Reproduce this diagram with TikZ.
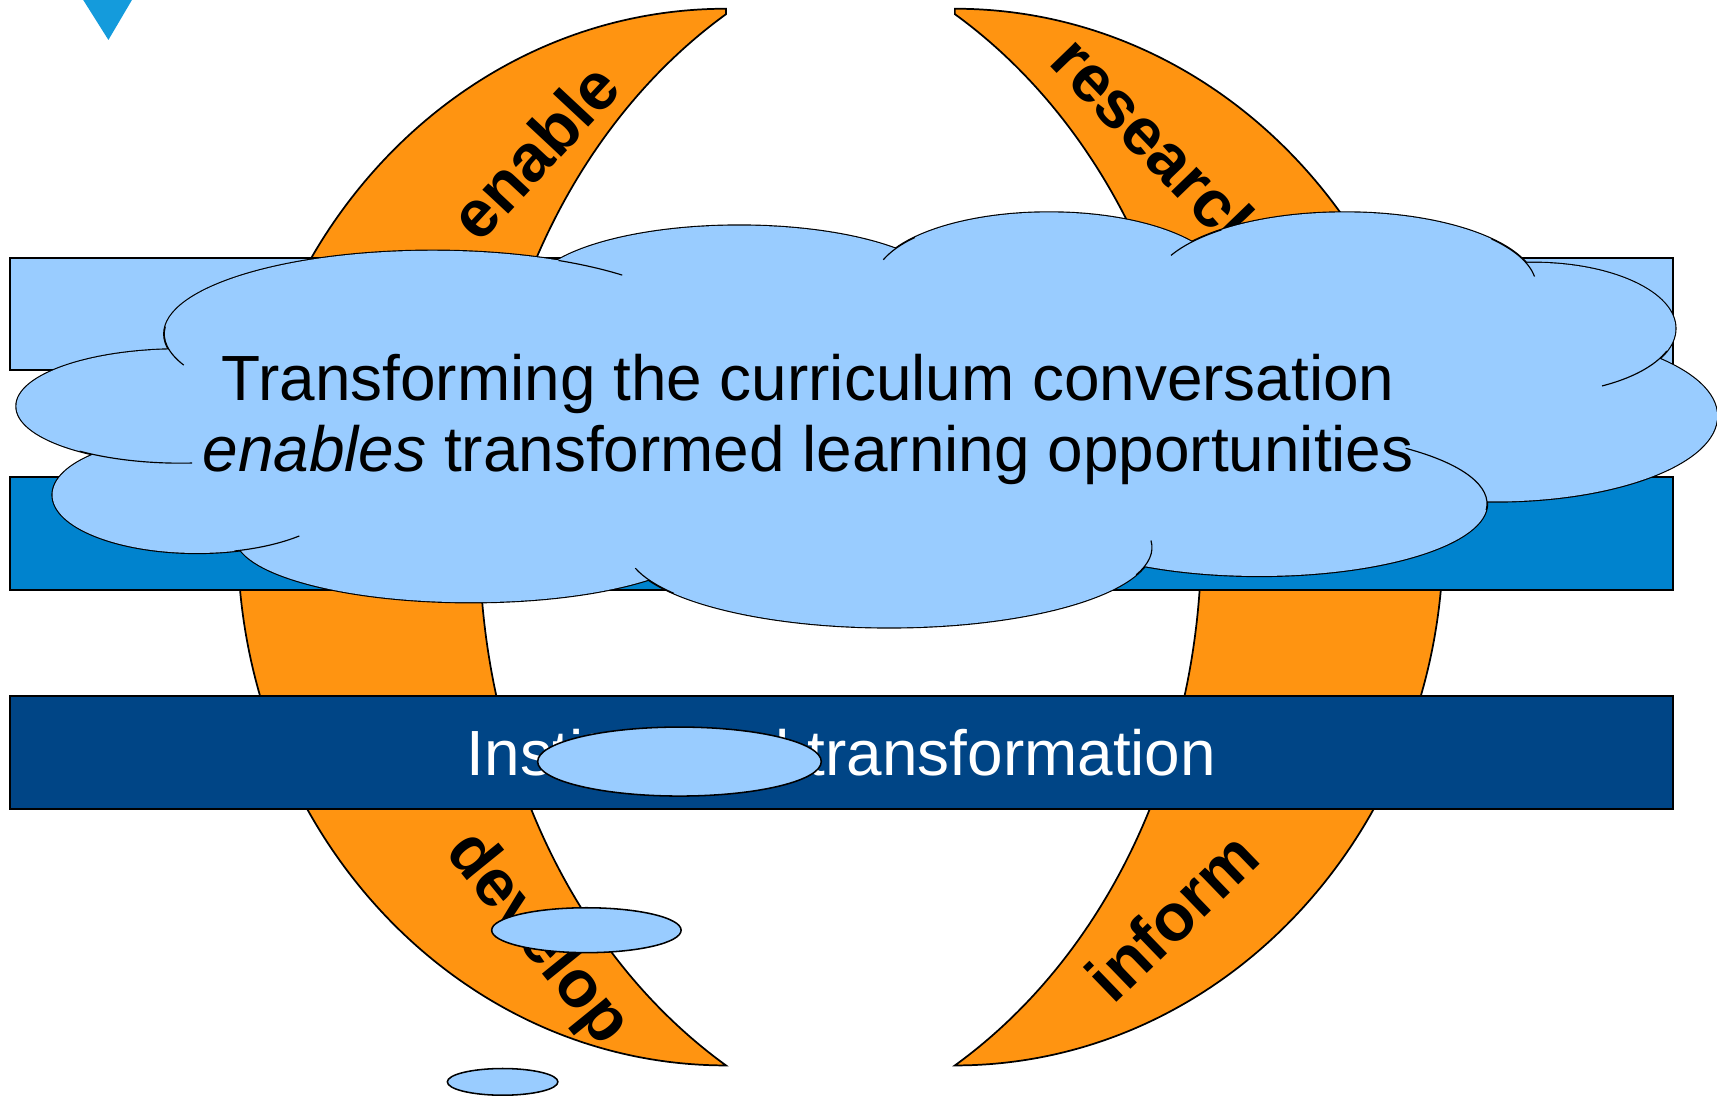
\documentclass[tikz,border=0pt]{standalone}
\usepackage{fontspec}
\setmainfont{Liberation Sans}
\definecolor{arcorange}{RGB}{255,148,17}
\definecolor{paleblue}{RGB}{153,204,255}
\definecolor{midblue}{RGB}{0,131,206}
\definecolor{deepblue}{RGB}{0,69,134}
\definecolor{triblue}{RGB}{20,155,220}
\tikzset{
  band/.style={draw=black, line width=0.5pt, minimum width=15.19cm, inner sep=0pt},
  crescent/.style={fill=arcorange, draw=black, line width=0.45pt},
  arclabel/.style={font=\fontsize{17.3}{20}\selectfont\bfseries, inner sep=0pt},
  bigtext/.style={font=\fontsize{16.6}{18.3}\selectfont, inner sep=0pt},
  rim/.style={draw=black, line width=0.3pt},
  bubble/.style={fill=paleblue, draw=black, line width=0.4pt}
}
\begin{document}
\begin{tikzpicture}
\useasboundingbox (0,0) rectangle (15.68,10);
\fill[triblue] (0.76,10) -- (1.205,10) -- (0.99,9.635) -- cycle;
\filldraw[crescent] (6.63,9.92) arc[start angle=90, end angle=270, x radius=4.46, y radius=4.825] arc[start angle=239, end angle=121, x radius=4.64, y radius=5.6] -- cycle;
\filldraw[crescent] (8.72,9.92) arc[start angle=90, end angle=-90, x radius=4.46, y radius=4.825] arc[start angle=-59, end angle=59, x radius=4.64, y radius=5.6] -- cycle;
\node[arclabel, rotate=47] (enable) at (4.88,8.62) {enable};
\node[arclabel, rotate=-46] (research) at (10.60,8.66) {research};
\node[arclabel, rotate=-51] (develop) at (4.90,1.42) {develop};
\node[arclabel, rotate=44] (inform) at (10.70,1.63) {inform};
\node[band, fill=paleblue, minimum height=1.02cm] (upper) at (7.685,7.13) {};
\node[band, fill=midblue, minimum height=1.03cm] (middle) at (7.685,5.125) {};
\node[band, fill=deepblue, minimum height=1.03cm, text=white, bigtext] (inst) at (7.685,3.125) {Institutional transformation};
\foreach \n/\x/\y/\rx/\ry in {lA/3.95/6.95/2.45/0.76, lB/6.75/7.32/1.90/0.62, lC/9.58/7.42/1.60/0.64, lD/12.28/7.38/1.75/0.68, lE/14.00/7.00/1.30/0.60, lF/13.65/6.20/2.03/0.78, lG/11.50/5.40/2.08/0.66, lH/8.12/5.00/2.40/0.73, lL/4.30/5.10/2.15/0.60, lJ/1.80/5.48/1.32/0.53, lK/1.65/6.29/1.50/0.52}{
  \coordinate (\n) at (\x,\y);
  \draw[line width=0.6pt] (\n) ellipse [x radius=\rx, y radius=\ry];
}
\foreach \n/\rx/\ry in {lA/2.45/0.76, lB/1.90/0.62, lC/1.60/0.64, lD/1.75/0.68, lE/1.30/0.60, lF/2.03/0.78, lG/2.08/0.66, lH/2.40/0.73, lL/2.15/0.60, lJ/1.32/0.53, lK/1.50/0.52}
  \fill[paleblue] (\n) ellipse [x radius=\rx, y radius=\ry];
\fill[paleblue] (7.7,6.1) ellipse [x radius=6.3, y radius=1.1];
\foreach \n/\rx/\ry/\a/\b in {lA/2.45/0.76/62/45, lA/2.45/0.76/175/202, lC/1.60/0.64/140/161, lD/1.75/0.68/130/155, lD/1.75/0.68/40/8, lE/1.30/0.60/-20/-61, lG/2.08/0.66/-5/50, lH/2.40/0.73/-20/5, lH/2.40/0.73/195/215, lJ/1.32/0.53/-75/-45, lK/1.50/0.52/-128/-86}
  \draw[rim] ([shift={({\rx*cos(\a)},{\ry*sin(\a)})}]\n) arc[start angle=\a, end angle=\b, x radius=\rx, y radius=\ry];
\node[bigtext, align=center] (conv) at (7.38,6.17) {Transforming the curriculum conversation\\\textit{enables} transformed learning opportunities};
\filldraw[bubble] (6.205,3.045) ellipse [x radius=1.295, y radius=0.315];
\filldraw[bubble] (5.355,1.505) ellipse [x radius=0.865, y radius=0.205];
\filldraw[bubble] (4.59,0.12) ellipse [x radius=0.505, y radius=0.122];
\end{tikzpicture}
\end{document}
